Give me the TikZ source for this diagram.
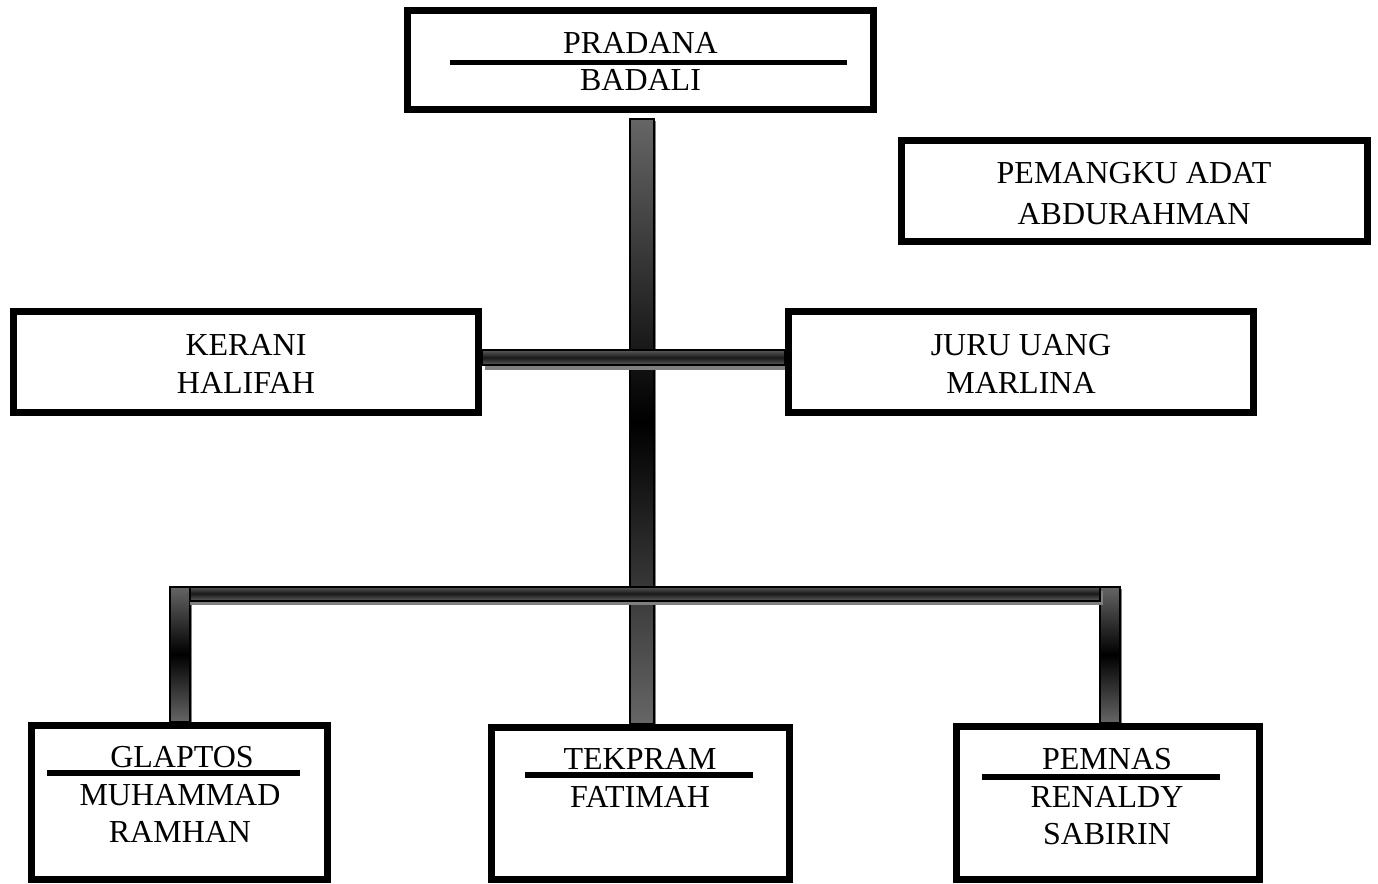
\documentclass[tikz,border=0pt]{standalone}
\usepackage{fontspec}
\setmainfont{Liberation Serif}
\usetikzlibrary{calc,backgrounds}
\definecolor{barg}{HTML}{666666}
\definecolor{hbarg}{HTML}{5A5A5A}
\definecolor{shad}{HTML}{808080}
\tikzset{
  box/.style={draw=black, line width=7pt, fill=white, inner sep=0pt},
  lbl/.style={anchor=base, inner sep=0pt, font=\fontsize{32}{37}\selectfont},
  rulebar/.style={line width=6pt},
  vbar/.style={draw=black, line width=2pt, top color=barg, bottom color=barg, middle color=black},
  hbar/.style={draw=black, line width=2pt, top color=hbarg, bottom color=hbarg, middle color=black!90},
  shadow/.style={fill=shad, draw=none}
}
\begin{document}
\begin{tikzpicture}[x=1pt,y=-1pt]
\useasboundingbox (0,0) rectangle (1378,883);
% boxes
\node[box, minimum width=466pt, minimum height=99pt] (pradana) at (640.5,60) {};
\node[box, minimum width=466pt, minimum height=101pt] (pemangku) at (1134.5,191) {};
\node[box, minimum width=465pt, minimum height=101pt] (kerani) at (246,362) {};
\node[box, minimum width=465pt, minimum height=101pt] (juru) at (1021,362) {};
\node[box, minimum width=296pt, minimum height=154pt] (glaptos) at (179.5,802.5) {};
\node[box, minimum width=298pt, minimum height=152pt] (tekpram) at (640.5,803.5) {};
\node[box, minimum width=303pt, minimum height=153pt] (pemnas) at (1108,803) {};
% texts
\node[lbl] (t1) at (640.5,53) {PRADANA};
\node[lbl] (t2) at (640.5,90) {BADALI};
\draw[rulebar, line width=5pt] (450,62.5) -- (847,62.5);
\node[lbl] (t3) at (1134,183) {PEMANGKU ADAT};
\node[lbl] (t4) at (1134,224) {ABDURAHMAN};
\node[lbl] (t5) at (246,355) {KERANI};
\node[lbl] (t6) at (246,393) {HALIFAH};
\node[lbl] (t7) at (1021,355) {JURU UANG};
\node[lbl] (t8) at (1021,393) {MARLINA};
\node[lbl] (t9) at (182,767) {GLAPTOS};
\node[lbl] (t10) at (180,805) {MUHAMMAD};
\node[lbl] (t11) at (180,842) {RAMHAN};
\draw[rulebar] (47,773) -- (300,773);
\node[lbl] (t12) at (640,769) {TEKPRAM};
\node[lbl] (t13) at (640,807) {FATIMAH};
\draw[rulebar] (525,775) -- (753,775);
\node[lbl] (t14) at (1107,769) {PEMNAS};
\node[lbl] (t15) at (1107,807) {RENALDY};
\node[lbl] (t16) at (1107,844) {SABIRIN};
\draw[rulebar] (982,777) -- (1220,777);
% connectors
\coordinate (mtop) at ($(pradana.south)+(-10.5,5.5)$);
\coordinate (mbot) at ($(tekpram.north)+(13.5,0)$);
\coordinate (ltop) at ($(glaptos.north)+(-9.5,-135.5)$);
\coordinate (lbot) at ($(glaptos.north)+(10.5,0)$);
\coordinate (rtop) at ($(pemnas.north)+(-8,-136.5)$);
\coordinate (rbot) at ($(pemnas.north)+(12,0)$);
\coordinate (ka) at ($(kerani.east)+(0,-12)$);
\coordinate (jb) at ($(juru.west)+(0,3)$);
\coordinate (ha) at ($(ltop)+(20,0)$);
\coordinate (hb) at ($(rtop)+(0,14)$);
\begin{scope}[on background layer]
  % main vertical
  \fill[shadow] ($(mtop)+(2,2)$) rectangle ($(mbot)+(2,0)$);
  \draw[vbar] (mtop) rectangle (mbot);
  % side verticals
  \fill[shadow] ($(ltop)+(2,2)$) rectangle ($(lbot)+(2,0)$);
  \draw[vbar] (ltop) rectangle (lbot);
  \fill[shadow] ($(rtop)+(2,2)$) rectangle ($(rbot)+(2,0)$);
  \draw[vbar] (rtop) rectangle (rbot);
  % middle horizontal
  \fill[shadow] ($(ka)+(3,5)$) rectangle ($(jb)+(3,5)$);
  \draw[hbar] (ka) rectangle (jb);
  % bottom horizontal
  \fill[shadow] ($(ha)+(0,4)$) rectangle ($(hb)+(3,4)$);
  \draw[hbar] (ha) rectangle (hb);
\end{scope}
\end{tikzpicture}
\end{document}
